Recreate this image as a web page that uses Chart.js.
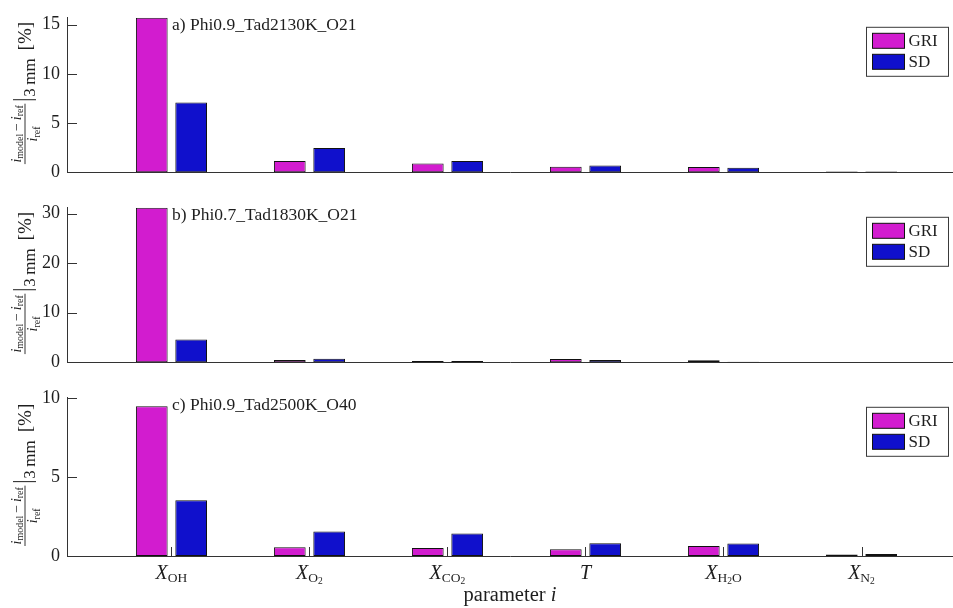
<!DOCTYPE html>
<html>
<head>
<meta charset="utf-8">
<script src="https://cdn.jsdelivr.net/npm/chart.js@4.4.1/dist/chart.umd.min.js"></script>
<style>
  html, body { margin: 0; padding: 0; background: #ffffff; }
  #wrap { position: relative; width: 953px; height: 608px; overflow: hidden; background: #fff; }
  #wrap canvas { position: absolute; left: 0; }
</style>
</head>
<body>
<div id="wrap">
  <canvas id="panelA" width="953" height="190" style="top:0px"></canvas>
  <canvas id="panelB" width="953" height="190" style="top:190px"></canvas>
  <canvas id="panelC" width="953" height="228" style="top:380px"></canvas>
</div>
<script>
// Parameters compared (positions 1..6 on the x axis)
const categories = ['X_OH', 'X_O2', 'X_CO2', 'T', 'X_H2O', 'X_N2'];
// Tick label pieces: [text, level] with level 0 = main, 1 = subscript, 2 = sub-subscript
const xTickLabels = [
  [['X', 0], ['OH', 1]],
  [['X', 0], ['O', 1], ['2', 2]],
  [['X', 0], ['CO', 1], ['2', 2]],
  [['T', 0]],
  [['X', 0], ['H', 1], ['2', 2], ['O', 1]],
  [['X', 0], ['N', 1], ['2', 2]]
];
const seriesNames = ['GRI', 'SD'];

// Relative deviation at 3 mm [%]
const caseTitles = ['a) Phi0.9_Tad2130K_O21', 'b) Phi0.7_Tad1830K_O21', 'c) Phi0.9_Tad2500K_O40'];
const griA = [15.7, 1.15, 0.88, 0.56, 0.53, 0.06];
const sdA  = [7.09, 2.45, 1.15, 0.69, 0.46, 0.06];
const griB = [31.2, 0.42, 0.25, 0.65, 0.40, 0.05];
const sdB  = [4.60, 0.70, 0.25, 0.45, 0.10, 0.05];
const griC = [9.46, 0.56, 0.50, 0.42, 0.64, 0.10];
const sdC  = [3.53, 1.55, 1.42, 0.81, 0.79, 0.12];

// Axis limits and tick steps per panel
const yMaxes = [15.7, 31.2, 10];
const yTickSteps = [5, 10, 5];
const xLimits = [0.243, 6.663];

const SERIF = '"Liberation Serif", "DejaVu Serif", serif';
const INK = '#1e1e1e';
const AXIS = '#333333';
const COLORS = ['#d21ccf', '#1010cc'];

function textRun(ctx, pieces, x, y, sizes, offs) {
  // draw a run of pieces starting at x; returns end x
  for (const [t, lvl, italic] of pieces) {
    ctx.font = (italic ? 'italic ' : '') + sizes[lvl] + 'px ' + SERIF;
    ctx.fillText(t, x, y + offs[lvl]);
    x += ctx.measureText(t).width;
  }
  return x;
}
function runWidth(ctx, pieces, sizes) {
  let w = 0;
  for (const [t, lvl, italic] of pieces) {
    ctx.font = (italic ? 'italic ' : '') + sizes[lvl] + 'px ' + SERIF;
    w += ctx.measureText(t).width;
  }
  return w;
}

// Rotated y-axis label: (i_model - i_ref)/i_ref |_3mm [%]
function drawYLabel(ctx, cx, cy) {
  ctx.save();
  ctx.translate(cx, cy);
  ctx.rotate(-Math.PI / 2);
  ctx.fillStyle = INK;
  ctx.strokeStyle = INK;
  ctx.textBaseline = 'alphabetic';
  ctx.textAlign = 'left';
  const sizes = [14, 10, 8];
  const offs = [0, 2.5, 4];
  const num = [['i', 0, true], ['model', 1], ['\u2009\u2212\u2009', 0], ['i', 0, true], ['ref', 1]];
  const den = [['i', 0, true], ['ref', 1]];
  const numW = runWidth(ctx, num, sizes);
  const denW = runWidth(ctx, den, sizes);
  const barW = numW + 3;
  ctx.font = '17px ' + SERIF;
  const evalW = ctx.measureText('3\u2009mm').width;
  ctx.font = '19px ' + SERIF;
  const pctW = ctx.measureText('[%]').width;
  const total = barW + 4 + 3 + evalW + 8 + pctW;
  let x = -total / 2;
  // fraction
  textRun(ctx, num, x + 1.5, -4.5, sizes, offs);
  ctx.lineWidth = 0.9;
  ctx.beginPath(); ctx.moveTo(x, 0); ctx.lineTo(x + barW, 0); ctx.stroke();
  textRun(ctx, den, x + (barW - denW) / 2, 12, sizes, offs);
  x += barW + 4;
  // evaluation bar
  ctx.lineWidth = 1;
  ctx.beginPath(); ctx.moveTo(x, -12); ctx.lineTo(x, 11); ctx.stroke();
  x += 3;
  ctx.font = '17px ' + SERIF;
  ctx.fillText('3\u2009mm', x, 10);
  x += evalW + 8;
  ctx.font = '19px ' + SERIF;
  ctx.fillText('[%]', x, 6);
  ctx.restore();
}

const panelDecor = {
  id: 'panelDecor',
  afterDraw(chart, args, opts) {
    const ctx = chart.ctx;
    const area = chart.chartArea;
    const yScale = chart.scales.y;
    const xScale = chart.scales.x;
    ctx.save();
    // inward y ticks
    ctx.strokeStyle = AXIS;
    ctx.lineWidth = 1;
    for (const t of yScale.ticks) {
      const py = Math.round(yScale.getPixelForValue(t.value)) + 0.5;
      ctx.beginPath(); ctx.moveTo(area.left, py); ctx.lineTo(area.left + 10, py); ctx.stroke();
    }
    // inward x ticks and category labels on the bottom panel
    if (opts.showX) {
      for (let i = 0; i < categories.length; i++) {
        const px = Math.round(xScale.getPixelForValue(i + 1)) + 0.5;
        ctx.beginPath(); ctx.moveTo(px, area.bottom); ctx.lineTo(px, area.bottom - 9); ctx.stroke();
      }
      ctx.fillStyle = INK;
      ctx.textBaseline = 'alphabetic';
      ctx.textAlign = 'left';
      const sizes = [20, 13.5, 9.5];
      const offs = [0, 3, 5];
      xTickLabels.forEach((parts, i) => {
        const pieces = parts.map(([t, l]) => [t, l, l === 0]);
        const w = runWidth(ctx, pieces, sizes);
        const px = xScale.getPixelForValue(i + 1);
        textRun(ctx, pieces, px - w / 2, area.bottom + 23, sizes, offs);
      });
      // axis title
      const tp = [['parameter ', 0, false], ['i', 0, true]];
      const tw = runWidth(ctx, tp, [20.5]);
      textRun(ctx, tp, (area.left + area.right) / 2 - tw / 2, area.bottom + 45, [20.5], [0]);
    }
    // case title
    ctx.fillStyle = INK;
    ctx.font = '17.5px ' + SERIF;
    ctx.textAlign = 'left';
    ctx.textBaseline = 'alphabetic';
    ctx.fillText(opts.title, 172, area.top + 12.5);
    // legend box
    const bw = 82, bh = 49;
    const bx = area.right - 5 - bw + 0.5, by = area.top + 9 + 0.5;
    ctx.fillStyle = '#ffffff';
    ctx.fillRect(bx, by, bw, bh);
    ctx.strokeStyle = '#3a3a3a';
    ctx.lineWidth = 1;
    ctx.strokeRect(bx, by, bw, bh);
    chart.data.datasets.forEach((ds, k) => {
      const py = by + 6 + k * 21;
      ctx.fillStyle = ds.backgroundColor;
      ctx.fillRect(bx + 6, py, 32, 15);
      ctx.strokeStyle = '#111';
      ctx.strokeRect(bx + 6, py, 32, 15);
      ctx.fillStyle = INK;
      ctx.font = '17px ' + SERIF;
      ctx.textBaseline = 'middle';
      ctx.fillText(ds.label, bx + 42, py + 8);
    });
    // y axis label
    drawYLabel(ctx, 25, (area.top + area.bottom) / 2 - 2);
    ctx.restore();
  }
};

function makePanel(canvasId, gri, sd, idx, topPad, xHeight, showX) {
  const toPoints = arr => arr.map((v, i) => ({ x: i + 1, y: v }));
  const barStyle = { borderColor: '#111111', borderWidth: 1, borderSkipped: false };
  return new Chart(document.getElementById(canvasId), {
    type: 'bar',
    data: {
      datasets: [
        Object.assign({ label: seriesNames[0], data: toPoints(gri), backgroundColor: COLORS[0] }, barStyle),
        Object.assign({ label: seriesNames[1], data: toPoints(sd), backgroundColor: COLORS[1] }, barStyle)
      ]
    },
    options: {
      responsive: false,
      animation: false,
      devicePixelRatio: 1,
      layout: { padding: { top: topPad, right: 0, bottom: 0, left: 0 } },
      categoryPercentage: 0.571,
      barPercentage: 0.805,
      plugins: {
        legend: { display: false },
        tooltip: { enabled: false },
        panelDecor: { title: caseTitles[idx], showX: showX }
      },
      scales: {
        x: {
          type: 'linear',
          min: xLimits[0],
          max: xLimits[1],
          offset: false,
          grid: { display: false, drawTicks: false },
          border: { display: true, color: AXIS, width: 1 },
          ticks: { display: false, stepSize: 1, includeBounds: false },
          afterFit: s => { s.height = xHeight; }
        },
        y: {
          type: 'linear',
          min: 0,
          max: yMaxes[idx],
          grid: { display: false, drawTicks: false },
          border: { display: true, color: AXIS, width: 1 },
          ticks: {
            stepSize: yTickSteps[idx],
            includeBounds: false,
            padding: 7,
            color: INK,
            font: { family: SERIF, size: 18 }
          },
          afterFit: s => { s.width = 67; }
        }
      }
    },
    plugins: [panelDecor]
  });
}

makePanel('panelA', griA, sdA, 0, 15, 15, false);
makePanel('panelB', griB, sdB, 1, 15.5, 14.5, false);
makePanel('panelC', griC, sdC, 2, 15.7, 52, true);
</script>
</body>
</html>
